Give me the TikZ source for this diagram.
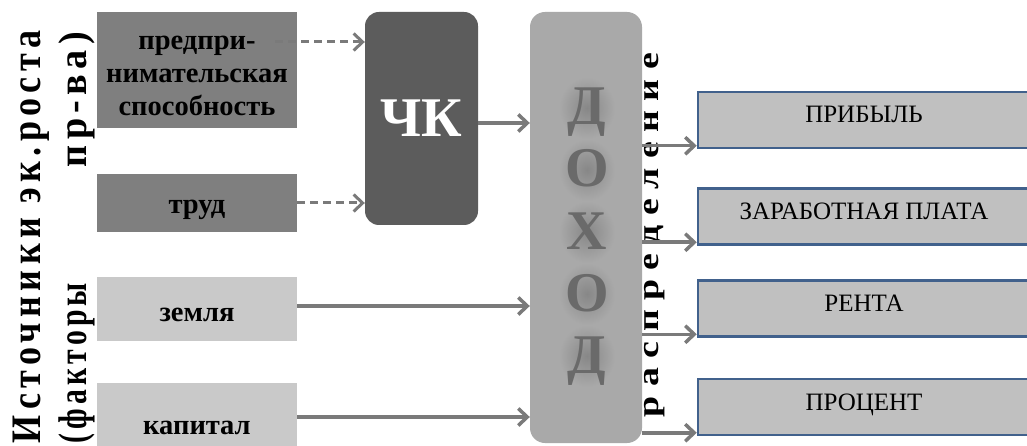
\documentclass[tikz,border=0pt]{standalone}
\usepackage{fontspec}
\setmainfont{Liberation Serif}[BoldFont={Liberation Serif Bold}]
\usetikzlibrary{arrows.meta,calc}

\definecolor{factordark}{HTML}{7F7F7F}
\definecolor{factorlight}{HTML}{C9C9C9}
\definecolor{hcapital}{HTML}{5C5C5C}
\definecolor{income}{HTML}{A9A9A9}
\definecolor{incomeletter}{HTML}{6A6A6A}
\definecolor{incomehalo}{HTML}{878787}
\definecolor{sharefill}{HTML}{C0C0C0}
\definecolor{shareline}{HTML}{41618C}
\definecolor{arrowgrey}{HTML}{7A7A7A}

\tikzset{
  factor/.style={inner sep=0pt, minimum width=200pt},
  factortext/.style={inner sep=0pt, align=center,
    font=\fontsize{28.5}{33}\selectfont\bfseries},
  share/.style={draw=shareline, line width=2.5pt, fill=sharefill, inner sep=0pt,
    minimum width=332pt, minimum height=56pt, text height=16pt, text depth=10pt,
    font=\fontsize{25}{30}\selectfont},
  arr/.style={draw=arrowgrey, line width=3.5pt,
    -{Straight Barb[length=9pt,width=17pt]}},
  dasharr/.style={arr, line width=3pt, dash pattern=on 8pt off 5pt},
  sidetext/.style={rotate=90, anchor=base, inner sep=0pt},
}

\begin{document}
\begin{tikzpicture}[x=1pt,y=-1pt]
  \useasboundingbox (0,0) rectangle (1027,446);
  \fill[white] (0,0) rectangle (1027,446);

  % factors of production
  \node[factor, fill=factordark, minimum height=116pt] (b1) at (197,70) {};
  \node[factor, fill=factordark, minimum height=58pt] (b2) at (197,203) {};
  \node[factor, fill=factorlight, minimum height=64pt] (b3) at (197,309) {};
  \node[factor, fill=factorlight, minimum height=79pt] (b4) at (197,422.5) {};
  \node[factortext] (b1t) at ([yshift=-6pt]b1.center)
    {предпри-\\нимательская\\способность};
  \node[factortext] (b2t) at ([yshift=-7pt]b2.center) {труд};
  \node[factortext] (b3t) at ([yshift=-6pt]b3.center) {земля};
  \node[factortext] (b4t) at ([yshift=-5pt]b4.center) {капитал};

  % human capital
  \node[fill=hcapital, rounded corners=14pt, minimum width=113pt,
        minimum height=213pt, inner sep=0pt, text=white,
        font=\fontsize{56}{60}\selectfont\bfseries] (chk) at (421.5,118.5) {ЧК};

  % income column with soft shadows behind the letters
  \node[fill=income, rounded corners=15pt, minimum width=112pt,
        minimum height=431pt, inner sep=0pt] (inc) at (586,227.5) {};
  \foreach \ch/\yb [count=\i] in {Д/125,О/187,Х/249,О/311,Д/373}{
    \shade[inner color=incomehalo, outer color=income]
      (587,\yb-17) ellipse [x radius=28pt, y radius=31pt];
    \node[anchor=base, inner sep=0pt, text=incomeletter,
          font=\fontsize{56}{60}\selectfont\bfseries] (L\i) at (587,\yb) {\ch};
  }

  % kinds of income
  \node[share] (o1) at (864,120) {ПРИБЫЛЬ};
  \node[share] (o2) at (864,216.5) {ЗАРАБОТНАЯ ПЛАТА};
  \node[share] (o3) at (864,308.5) {РЕНТА};
  \node[share] (o4) at (864,407) {ПРОЦЕНТ};

  % side captions
  \node[sidetext, font=\fontsize{42}{42}\selectfont\bfseries] (cap1) at (40,236.5)
    {\addfontfeature{LetterSpace=15}\resizebox{413pt}{\height}{Источники эк.роста}};
  \node[sidetext, font=\fontsize{40}{40}\selectfont\bfseries] (cap2) at (86,237.5)
    {\addfontfeature{LetterSpace=14}\resizebox{160pt}{\height}{(факторы}\hspace{116pt}\resizebox{135pt}{\height}{пр-ва)}};
  \node[sidetext, font=\fontsize{30}{30}\selectfont\bfseries] (cap3) at (658,235)
    {\addfontfeature{LetterSpace=25}\resizebox{364pt}{\height}{распределение}};

  % connectors
  \coordinate (d1) at ($(b1.east)+(-22,-28)$);
  \draw[dasharr] (d1) -- (d1 -| chk.west);
  \draw[dasharr] (b2.east) -- (b2.east -| chk.west);
  \coordinate (c1) at ([yshift=-4.5pt]chk.east);
  \draw[arr] (c1) -- (c1 -| inc.west);
  \coordinate (c3) at ([yshift=3pt]b3.east);
  \draw[arr] (c3) -- (c3 -| inc.west);
  \coordinate (c4) at ([yshift=5.5pt]b4.east);
  \draw[arr] (c4) -- (c4 -| inc.west);
  \foreach \k in {1,...,4}{
    \coordinate (t\k) at ([yshift=3.5pt]o\k.south west);
    \draw[arr] (t\k -| inc.east) -- (t\k);
  }
\end{tikzpicture}
\end{document}
